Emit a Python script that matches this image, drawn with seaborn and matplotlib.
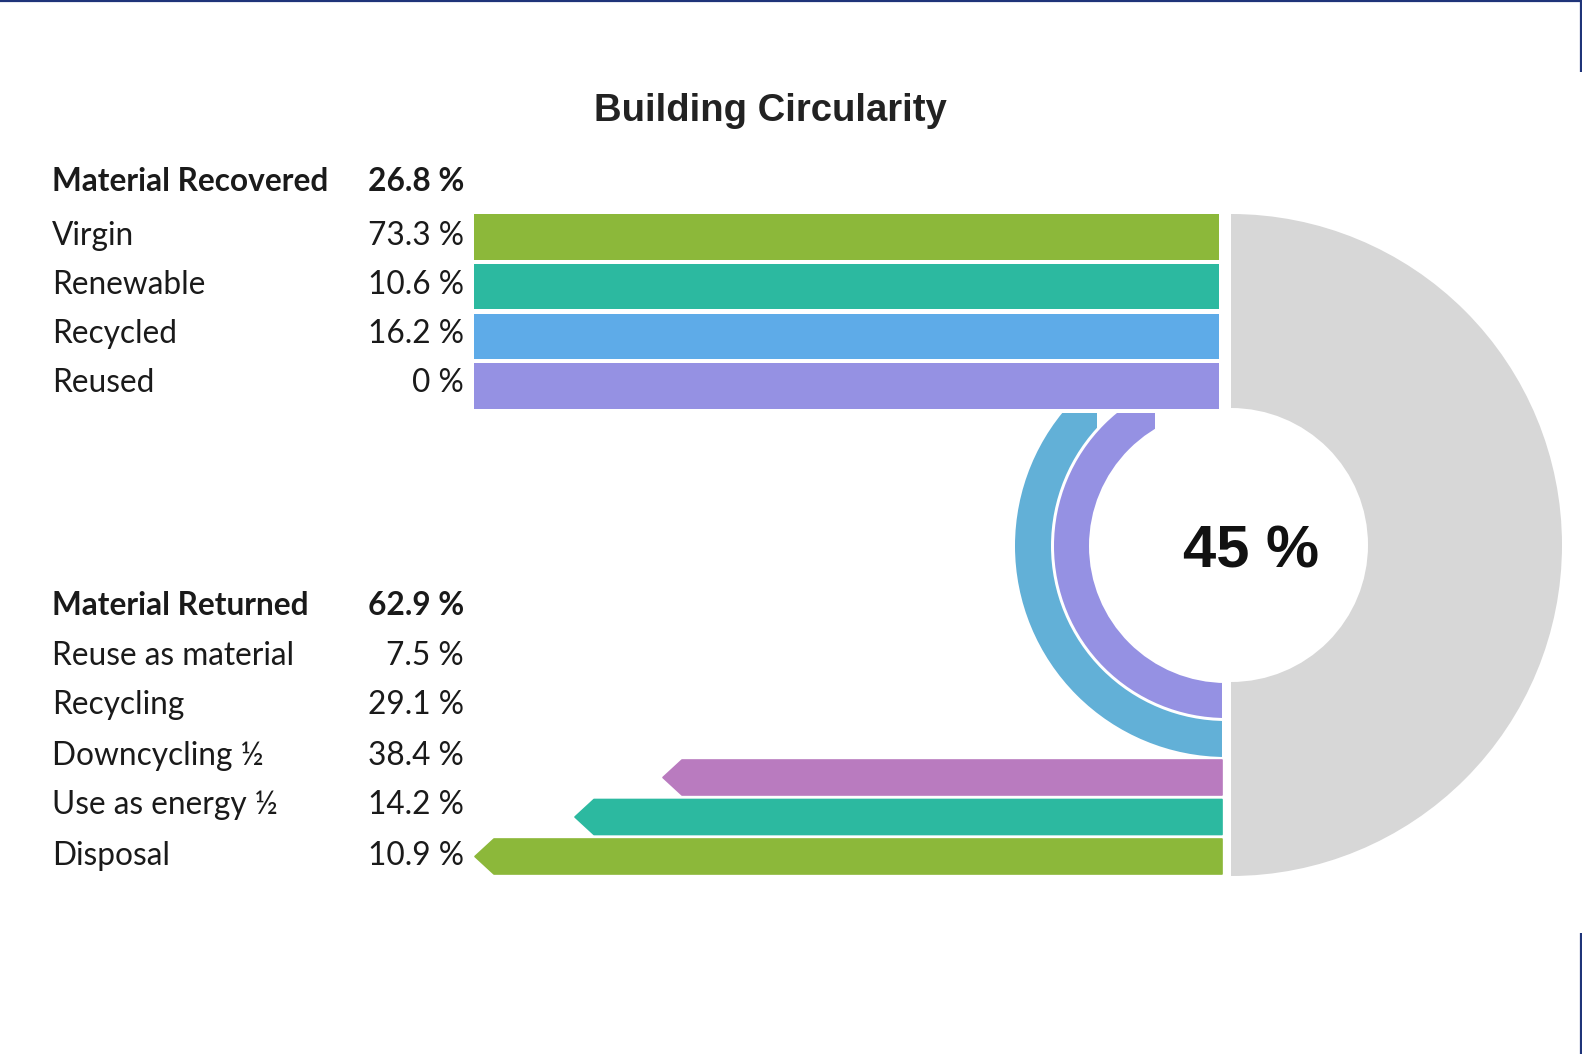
import matplotlib
matplotlib.use("Agg")
import matplotlib.pyplot as plt
from matplotlib.patches import Wedge, Polygon
import pandas as pd
import seaborn as sns

# ---------------- data ----------------
title = "Building Circularity"
recovered_header = "Material Recovered"
recovered_total = 26.8
recovered_labels = ["Virgin", "Renewable", "Recycled", "Reused"]
recovered_values = [73.3, 10.6, 16.2, 0]
returned_header = "Material Returned"
returned_total = 62.9
returned_labels = ["Reuse as material", "Recycling", "Downcycling ½",
                   "Use as energy ½", "Disposal"]
returned_values = [7.5, 29.1, 38.4, 14.2, 10.9]
circularity = 45

# ---------------- styles ----------------
recovered_colors = ["#8cb83a", "#2cb9a0", "#5eabe8", "#9591e3"]
loop_colors = ["#9591e3", "#62b0d7"]          # reuse as material, recycling
arrow_colors = ["#b97bbf", "#2cb9a0", "#8cb83a"]  # downcycling, energy, disposal
ring_color = "#d7d7d7"
border_color = "#1f3479"
txt = "#1a1a1a"

sns.set_theme(style="white")
plt.rcParams["font.family"] = ["Lato", "DejaVu Sans"]

W, H = 1582, 1054
fig = plt.figure(figsize=(W / 100, H / 100), dpi=100)
fig.patch.set_facecolor("white")
ax = fig.add_axes([0, 0, 1, 1])
ax.set_xlim(0, W)
ax.set_ylim(H, 0)
ax.axis("off")

# ---------------- layout ----------------
bar_left, bar_right = 474, 1219
bar_top, bar_bottom = 214, 409
cx, cy = 1231, 545
r_out, r_in = 331, 137
loop_cx, loop_cy = 1226, 546
loop_radii = [(137, 172), (175, 211)]
loop_cuts = [1155, 1097]
loop_top = 413
loop_right = 1222
arrow_tops = [760, 799.5, 839]
arrow_h = 35
arrow_tips = [663, 575, 475]
arrow_shoulder = 19
label_x, value_x = 52, 464
rec_baselines = [191, 245, 294, 343, 392]
ret_baselines = [615, 665, 714, 765, 814, 865]
fs = 22.8

# ---------------- top bars (seaborn) ----------------
ax_top = fig.add_axes([bar_left / W, 1 - bar_bottom / H,
                       (bar_right - bar_left) / W, (bar_bottom - bar_top) / H])
df_top = pd.DataFrame({"label": recovered_labels,
                       "flow": [1.0] * len(recovered_labels)})
bw = 0.915
sns.barplot(data=df_top, x="flow", y="label", hue="label",
            palette=recovered_colors, width=bw, saturation=1,
            legend=False, linewidth=0, ax=ax_top)
ax_top.set_xlim(0, 1)
ax_top.set_ylim(len(recovered_labels) - 1 + bw / 2, -bw / 2)
ax_top.axis("off")

# ---------------- gray half ring ----------------
ax.add_patch(Wedge((cx, cy), r_out, -90, 90, width=r_out - r_in,
                   facecolor=ring_color, edgecolor="none"))

# ---------------- loops ----------------
for (ri, ro), cut, col in zip(loop_radii, loop_cuts, loop_colors):
    w = Wedge((loop_cx, loop_cy), ro, 90, 270, width=ro - ri,
              facecolor=col, edgecolor="none")
    ax.add_patch(w)
    clip = Polygon([(0, loop_top), (cut, loop_top), (cut, loop_cy),
                    (loop_right, loop_cy), (loop_right, H), (0, H)],
                   closed=True, transform=ax.transData)
    w.set_clip_path(clip)

# ---------------- arrows ----------------
for top, tip, col in zip(arrow_tops, arrow_tips, arrow_colors):
    bot = top + arrow_h
    mid = (top + bot) / 2
    pts = [(tip, mid), (tip + arrow_shoulder, top), (loop_right, top),
           (loop_right, bot), (tip + arrow_shoulder, bot)]
    ax.add_patch(Polygon(pts, closed=True, facecolor=col, edgecolor=col,
                         linewidth=1.2, joinstyle="round"))

# ---------------- texts ----------------
ax.text(770, 121, title, ha="center", va="baseline", fontsize=27.5,
        fontweight="bold", color="#222222", family=["Liberation Sans", "DejaVu Sans"])

def fmt(v):
    return f"{v:g} %"

ax.text(label_x, rec_baselines[0], recovered_header, ha="left", va="baseline",
        fontsize=fs, fontweight="bold", color=txt)
ax.text(value_x, rec_baselines[0], fmt(recovered_total), ha="right", va="baseline",
        fontsize=fs, fontweight="bold", color=txt)
for lab, v, b in zip(recovered_labels, recovered_values, rec_baselines[1:]):
    ax.text(label_x, b, lab, ha="left", va="baseline", fontsize=fs, color=txt)
    ax.text(value_x, b, fmt(v), ha="right", va="baseline", fontsize=fs, color=txt)

ax.text(label_x, ret_baselines[0], returned_header, ha="left", va="baseline",
        fontsize=fs, fontweight="bold", color=txt)
ax.text(value_x, ret_baselines[0], fmt(returned_total), ha="right", va="baseline",
        fontsize=fs, fontweight="bold", color=txt)
for lab, v, b in zip(returned_labels, returned_values, ret_baselines[1:]):
    ax.text(label_x, b, lab, ha="left", va="baseline", fontsize=fs, color=txt)
    ax.text(value_x, b, fmt(v), ha="right", va="baseline", fontsize=fs, color=txt)

ax.text(1251, 568, f"{circularity} %", ha="center", va="baseline", fontsize=43,
        fontweight="bold", color="#111111", family=["Liberation Sans", "DejaVu Sans"])

# ---------------- frame remnants ----------------
ax.plot([0, W], [1, 1], color=border_color, lw=1.6, solid_capstyle="butt")
ax.plot([W - 1.5, W - 1.5], [0, 72], color=border_color, lw=1.6, solid_capstyle="butt")
ax.plot([W - 1.5, W - 1.5], [933, H], color=border_color, lw=1.6, solid_capstyle="butt")

fig.savefig("out.png", dpi=100, facecolor="white")
